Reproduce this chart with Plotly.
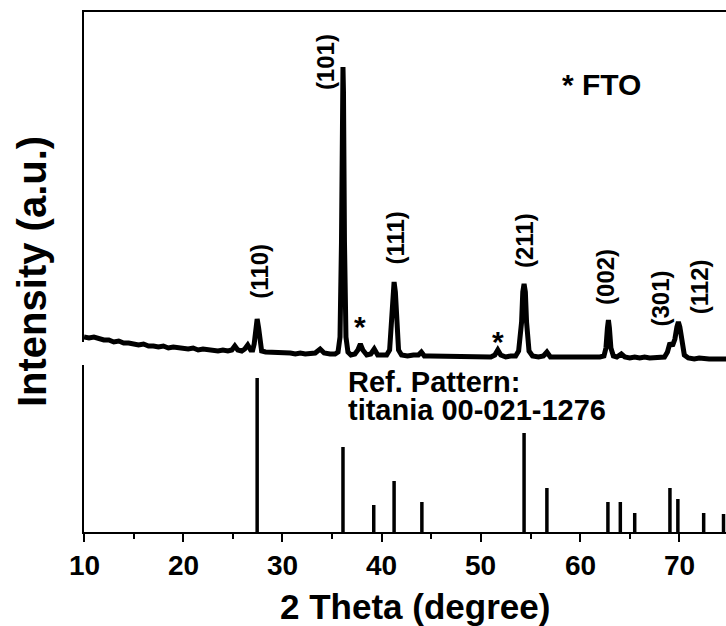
import plotly.graph_objects as go

# ---------------- data ----------------
# measured XRD pattern (2-theta in degrees, intensity in arbitrary units)
curve_x = [10.0, 10.5, 11.0, 11.5, 12.0, 12.5, 13.0, 13.5, 14.0, 14.5, 15.0, 15.5, 16.0, 16.5,
           17.0, 17.5, 18.0, 18.5, 19.0, 19.5, 20.0, 20.5, 21.0, 21.5, 22.0, 22.5, 23.0, 23.5,
           24.0, 24.5, 24.9, 25.2, 25.5, 25.9, 26.2, 26.5, 26.8, 27.0, 27.15, 27.3, 27.45, 27.6,
           27.75, 27.9, 28.3, 28.8, 29.3, 29.8, 30.3, 30.8, 31.3, 31.8, 32.3, 32.8, 33.3, 33.8,
           34.2, 34.8, 35.3, 35.6, 35.8, 35.95, 36.05, 36.1, 36.15, 36.25, 36.4, 36.6, 36.9, 37.3,
           37.6, 37.85, 38.1, 38.5, 38.9, 39.25, 39.6, 40.0, 40.5, 40.8, 41.0, 41.12, 41.25, 41.38,
           41.5, 41.7, 42.0, 42.6, 43.2, 43.7, 44.0, 44.3, 44.9, 45.5, 46.0, 46.5, 47.0, 47.5,
           48.0, 48.5, 49.0, 49.5, 50.0, 50.5, 51.0, 51.4, 51.7, 52.0, 52.5, 53.0, 53.5, 53.8,
           54.1, 54.22, 54.35, 54.48, 54.6, 54.85, 55.2, 55.8, 56.3, 56.65, 57.0, 57.5, 58.0, 58.5,
           59.0, 59.5, 60.0, 60.5, 61.0, 61.5, 62.0, 62.4, 62.6, 62.75, 62.85, 62.95, 63.1, 63.35,
           63.7, 64.15, 64.5, 65.0, 65.5, 66.0, 66.5, 67.0, 67.5, 68.0, 68.5, 68.8, 69.05, 69.3,
           69.55, 69.75, 69.9, 70.05, 70.25, 70.5, 70.9, 71.5, 72.0, 72.5, 73.0, 73.5, 74.0, 74.7,
           75.0]
curve_y = [195, 194, 195, 193, 192, 192, 190, 191, 189, 189, 188, 187, 188, 186,
           186, 185, 186, 184, 185, 184, 184, 183, 184, 182, 183, 182, 182, 181,
           182, 181, 182, 186, 182, 181, 183, 187, 182, 182, 188, 204, 213, 204,
           188, 181, 180, 180, 179, 180, 179, 179, 178, 179, 178, 179, 179, 183,
           179, 178, 178, 180, 195, 290, 440, 465, 440, 290, 195, 180, 177, 178,
           182, 188, 182, 177, 178, 183, 177, 177, 177, 182, 210, 240, 250, 240,
           210, 182, 177, 176, 177, 177, 180, 176, 176, 176, 175, 176, 175, 176,
           175, 175, 176, 175, 175, 176, 175, 177, 182, 177, 175, 176, 176, 181,
           210, 240, 248, 240, 210, 181, 176, 175, 176, 180, 175, 175, 175, 174,
           175, 175, 174, 175, 175, 174, 175, 176, 184, 204, 212, 204, 184, 176,
           175, 178, 175, 174, 175, 174, 175, 174, 174, 175, 175, 180, 189, 186,
           193, 205, 210, 205, 190, 177, 174, 173, 174, 173, 173, 173, 173, 172,
           173]

# reference pattern: titania (rutile) 00-021-1276
ref_pos = [27.45, 36.1, 39.2, 41.25, 44.05, 54.35, 56.65, 62.8, 64.05, 65.5, 69.05, 69.85, 72.45, 74.45]
ref_int = [154, 85, 27, 51, 30, 99, 44, 30, 30, 19, 44, 33, 19, 18]

# peak labels (Miller indices) with label centre positions
hkl_text = ["(110)", "(101)", "(111)", "(211)", "(002)", "(301)", "(112)"]
hkl_x = [27.6, 34.3, 41.3, 54.35, 62.5, 68.0, 72.0]
hkl_y = [261, 470, 294, 291, 255, 233, 245]

# FTO substrate markers
fto_x = [37.85, 51.7]
fto_y = [206, 191]

x_ticks = [10, 20, 30, 40, 50, 60, 70]
x_tick_labels = ["10", "20", "30", "40", "50", "60", "70"]
x_minor = [15, 25, 35, 45, 55, 65, 75]

FONT = "Liberation Sans, Arial, sans-serif"

# ---------------- figure ----------------
fig = go.Figure()

stick_x, stick_y = [], []
for p, h in zip(ref_pos, ref_int):
    stick_x += [p, p, None]
    stick_y += [0, h, None]

fig.add_trace(go.Scatter(x=stick_x, y=stick_y, mode="lines",
                         line=dict(color="black", width=3.5), hoverinfo="skip",
                         showlegend=False))
fig.add_trace(go.Scatter(x=curve_x, y=curve_y, mode="lines",
                         line=dict(color="black", width=5), showlegend=False))

for t, xx, yy in zip(hkl_text, hkl_x, hkl_y):
    fig.add_annotation(x=xx, y=yy, text="<b>%s</b>" % t, textangle=-90, showarrow=False,
                       xanchor="center", yanchor="middle",
                       font=dict(family=FONT, size=24, color="black"))

for xx, yy in zip(fto_x, fto_y):
    fig.add_annotation(x=xx, y=yy, text="<b>*</b>", showarrow=False,
                       xanchor="center", yanchor="middle",
                       font=dict(family=FONT, size=30, color="black"))

fig.add_annotation(x=58.0, y=448, text="<b>* FTO</b>", showarrow=False,
                   xanchor="left", yanchor="middle",
                   font=dict(family=FONT, size=30, color="black"))
fig.add_annotation(x=36.4, y=150, text="<b>Ref. Pattern:</b>", showarrow=False,
                   xanchor="left", yanchor="middle",
                   font=dict(family=FONT, size=29, color="black"))
fig.add_annotation(x=36.4, y=122, text="<b>titania 00-021-1276</b>", showarrow=False,
                   xanchor="left", yanchor="middle",
                   font=dict(family=FONT, size=29, color="black"))

# x tick labels (placed below the tick marks)
for v, lab in zip(x_ticks, x_tick_labels):
    fig.add_annotation(x=v, xref="x", yref="paper", y=0, yshift=-33,
                       text="<b>%s</b>" % lab, showarrow=False,
                       xanchor="center", yanchor="middle",
                       font=dict(family=FONT, size=28, color="black"))

# axis titles
fig.add_annotation(xref="paper", yref="paper", x=(415 - 84) / 642, y=0, yshift=-74,
                   text="<b>2 Theta (degree)</b>", showarrow=False,
                   xanchor="center", yanchor="middle",
                   font=dict(family=FONT, size=35, color="black"))
fig.add_annotation(xref="paper", yref="paper", x=0, xshift=-52, y=0.5,
                   text="<b>Intensity (a.u.)</b>", textangle=-90, showarrow=False,
                   xanchor="center", yanchor="middle",
                   font=dict(family=FONT, size=40, color="black"))

# small break in the left axis line as in the original
fig.add_shape(type="line", xref="paper", yref="y", x0=0, x1=0, y0=167, y1=190,
              line=dict(color="white", width=5), layer="above")

fig.update_layout(
    width=726, height=626,
    margin=dict(l=84, r=0, t=12, b=94),
    paper_bgcolor="white", plot_bgcolor="white",
    showlegend=False,
    xaxis=dict(range=[10, 74.7], showline=True, linecolor="black", linewidth=2,
               mirror=True, ticks="outside", ticklen=8, tickwidth=2, tickcolor="black",
               tickvals=x_ticks, showticklabels=False,
               minor=dict(tickvals=x_minor, ticks="outside", ticklen=5, tickwidth=2,
                          tickcolor="black"),
               showgrid=False, zeroline=False),
    yaxis=dict(range=[0, 520], showline=True, linecolor="black", linewidth=2,
               mirror=False, ticks="", showticklabels=False,
               showgrid=False, zeroline=False),
)

fig.write_html("out.html")
